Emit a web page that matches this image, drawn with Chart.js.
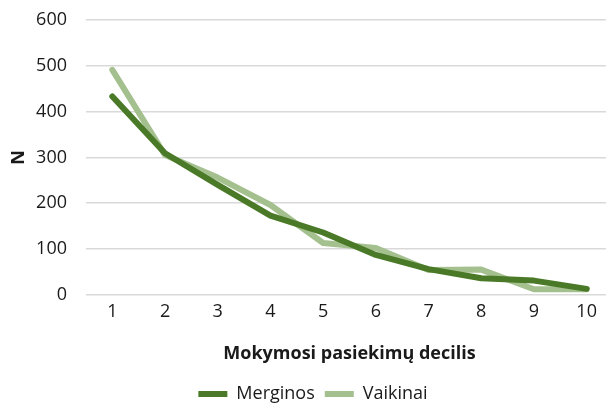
<!DOCTYPE html>
<html>
<head>
<meta charset="utf-8">
<script src="https://cdn.jsdelivr.net/npm/chart.js@4/dist/chart.umd.min.js"></script>
<style>
  html, body { margin:0; padding:0; background:#fff; overflow:hidden; }
  #wrap { width:613px; height:413px; position:relative; }
</style>
</head>
<body>
<div id="wrap"><canvas id="c"></canvas></div>
<script>
const deciles = ["1","2","3","4","5","6","7","8","9","10"];
const merginos = [433, 309, 240, 173, 136, 87, 56, 36, 31, 13];
const vaikinai = [491, 305, 256, 196, 113, 102, 54, 55, 12, 12];

const font = "'Open Sans', 'Noto Sans', sans-serif";
const txt = "#1a1a1a";

new Chart(document.getElementById("c"), {
  type: "line",
  data: {
    labels: deciles,
    datasets: [
      { label:"Merginos", data:merginos, borderColor:"#4a7a27", backgroundColor:"#4a7a27", borderWidth:6, pointRadius:0, tension:0, borderCapStyle:"round", borderJoinStyle:"round", order:0 },
      { label:"Vaikinai", data:vaikinai, borderColor:"#a5c08f", backgroundColor:"#a5c08f", borderWidth:6, pointRadius:0, tension:0, borderCapStyle:"round", borderJoinStyle:"round", order:1 }
    ]
  },
  options: {
    responsive:true, maintainAspectRatio:false, animation:false,
    layout:{ padding:{ top:20, left:13, right:0, bottom:0 } },
    plugins:{
      legend:{
        position:"bottom",
        labels:{
          font:{ family:font, size:18, lineHeight:1 }, color:txt, boxWidth:29, boxHeight:6, padding:10,
          generateLabels(chart){
            // flat swatches, no stroke
            return Chart.defaults.plugins.legend.labels.generateLabels(chart).map(l => ({ ...l, lineWidth:0 }));
          }
        }
      },
      tooltip:{ enabled:false }
    },
    scales:{
      x:{
        offset:true,
        grid:{ display:false, drawTicks:false },
        border:{ display:false },
        ticks:{ font:{ family:font, size:18 }, color:txt, padding:6 },
        title:{ display:true, text:"Mokymosi pasiekimų decilis", font:{ family:font, size:18, weight:"bold" }, color:txt, padding:{ top:15, bottom:10 } }
      },
      y:{
        min:0, max:600,
        ticks:{ stepSize:100, font:{ family:font, size:18 }, color:txt, padding:19 },
        grid:{ color:"#d9d9d9", lineWidth:1.5, drawTicks:false },
        border:{ display:false },
        title:{ display:true, text:"N", font:{ family:font, size:18, weight:"bold" }, color:txt, padding:{ top:-5, bottom:0 } },
        afterFit(scale){ scale.width = 73; scale.paddingTop = 0; scale.paddingBottom = 0; }
      }
    }
  }
});
</script>
</body>
</html>
